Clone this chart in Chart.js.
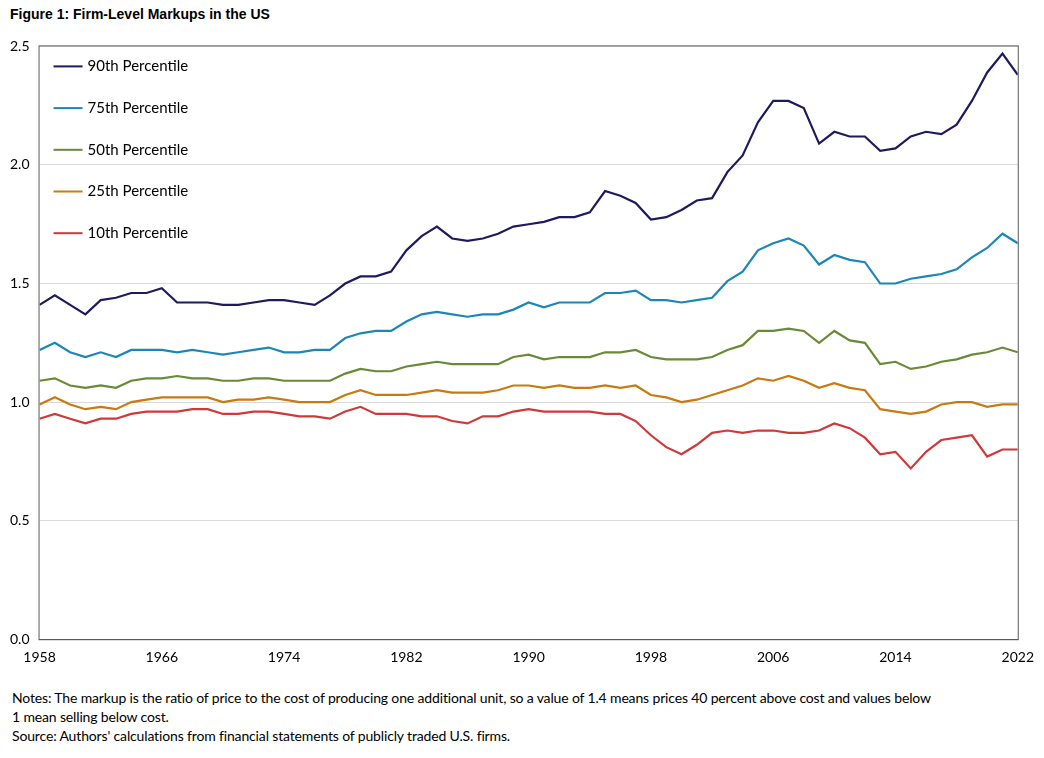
<!DOCTYPE html>
<html><head><meta charset="utf-8">
<script src="https://cdn.jsdelivr.net/npm/chart.js@4"></script>
<style>
body{margin:0;background:#fff;font-family:"Liberation Sans",Arial,sans-serif;}
#title{position:absolute;left:10px;top:6px;font-size:14px;font-weight:bold;color:#000;}
#wrap{position:absolute;left:0;top:28px;width:1044px;height:648px;}
#notes{position:absolute;left:12px;top:688px;width:1032px;font-family:Lato,"Liberation Sans",sans-serif;font-size:14px;letter-spacing:-0.15px;line-height:19px;color:#000;}
</style></head><body>
<div id="title">Figure 1: Firm-Level Markups in the US</div>
<div id="wrap"><canvas id="c"></canvas></div>
<div id="notes">Notes: The markup is the ratio of price to the cost of producing one additional unit, so a value of 1.4 means prices 40 percent above cost and values below<br>1 mean selling below cost.<br>Source: Authors' calculations from financial statements of publicly traded U.S. firms.</div>
<script>
const years = Array.from({length:65},(_, i)=>1958+i);
const p90 = [1.41,1.45,1.41,1.37,1.43,1.44,1.46,1.46,1.48,1.42,1.42,1.42,1.41,1.41,1.42,1.43,1.43,1.42,1.41,1.45,1.50,1.53,1.53,1.55,1.64,1.70,1.74,1.69,1.68,1.69,1.71,1.74,1.75,1.76,1.78,1.78,1.80,1.89,1.87,1.84,1.77,1.78,1.81,1.85,1.86,1.97,2.04,2.18,2.27,2.27,2.24,2.09,2.14,2.12,2.12,2.06,2.07,2.12,2.14,2.13,2.17,2.27,2.39,2.47,2.38];
const p75 = [1.22,1.25,1.21,1.19,1.21,1.19,1.22,1.22,1.22,1.21,1.22,1.21,1.20,1.21,1.22,1.23,1.21,1.21,1.22,1.22,1.27,1.29,1.30,1.30,1.34,1.37,1.38,1.37,1.36,1.37,1.37,1.39,1.42,1.40,1.42,1.42,1.42,1.46,1.46,1.47,1.43,1.43,1.42,1.43,1.44,1.51,1.55,1.64,1.67,1.69,1.66,1.58,1.62,1.60,1.59,1.50,1.50,1.52,1.53,1.54,1.56,1.61,1.65,1.71,1.67];
const p50 = [1.09,1.10,1.07,1.06,1.07,1.06,1.09,1.10,1.10,1.11,1.10,1.10,1.09,1.09,1.10,1.10,1.09,1.09,1.09,1.09,1.12,1.14,1.13,1.13,1.15,1.16,1.17,1.16,1.16,1.16,1.16,1.19,1.20,1.18,1.19,1.19,1.19,1.21,1.21,1.22,1.19,1.18,1.18,1.18,1.19,1.22,1.24,1.30,1.30,1.31,1.30,1.25,1.30,1.26,1.25,1.16,1.17,1.14,1.15,1.17,1.18,1.20,1.21,1.23,1.21];
const p25 = [0.99,1.02,0.99,0.97,0.98,0.97,1.00,1.01,1.02,1.02,1.02,1.02,1.00,1.01,1.01,1.02,1.01,1.00,1.00,1.00,1.03,1.05,1.03,1.03,1.03,1.04,1.05,1.04,1.04,1.04,1.05,1.07,1.07,1.06,1.07,1.06,1.06,1.07,1.06,1.07,1.03,1.02,1.00,1.01,1.03,1.05,1.07,1.10,1.09,1.11,1.09,1.06,1.08,1.06,1.05,0.97,0.96,0.95,0.96,0.99,1.00,1.00,0.98,0.99,0.99];
const p10 = [0.93,0.95,0.93,0.91,0.93,0.93,0.95,0.96,0.96,0.96,0.97,0.97,0.95,0.95,0.96,0.96,0.95,0.94,0.94,0.93,0.96,0.98,0.95,0.95,0.95,0.94,0.94,0.92,0.91,0.94,0.94,0.96,0.97,0.96,0.96,0.96,0.96,0.95,0.95,0.92,0.86,0.81,0.78,0.82,0.87,0.88,0.87,0.88,0.88,0.87,0.87,0.88,0.91,0.89,0.85,0.78,0.79,0.72,0.79,0.84,0.85,0.86,0.77,0.80,0.80];
const seriesLabels = ["90th Percentile","75th Percentile","50th Percentile","25th Percentile","10th Percentile"];
const colors = ["#1f1a5e","#1a87b8","#6a8a35","#c87a10","#d0393a"];
const allSeries = [p90,p75,p50,p25,p10];

const legendPlugin = {
  id:'inlegend',
  afterDraw(chart){
    const ctx=chart.ctx, a=chart.chartArea;
    ctx.save();
    ctx.font='15px Lato, "Liberation Sans", sans-serif';
    ctx.textBaseline='middle';
    chart.data.datasets.forEach((d,i)=>{
      const y=a.top+20+i*41.7, x=a.left+14;
      ctx.strokeStyle=d.borderColor; ctx.lineWidth=2;
      ctx.beginPath(); ctx.moveTo(x,y); ctx.lineTo(x+29,y); ctx.stroke();
      ctx.fillStyle='#000'; ctx.fillText(d.label,x+34,y);
    });
    ctx.strokeStyle='#595959'; ctx.lineWidth=1;
    ctx.strokeRect(a.left-0.5,a.top-0.5,a.right-a.left+1,a.bottom-a.top+1);
    ctx.restore();
  }
};

new Chart(document.getElementById('c'),{
  type:'line',
  data:{datasets:allSeries.map((s,i)=>({
    label:seriesLabels[i],
    data:s.map((v,j)=>({x:years[j],y:v})),
    borderColor:colors[i],backgroundColor:colors[i],
    borderWidth:2.2,pointRadius:0,tension:0
  }))},
  options:{
    responsive:true,maintainAspectRatio:false,animation:false,
    layout:{padding:{left:0,right:26,top:6,bottom:0}},
    plugins:{legend:{display:false},tooltip:{enabled:false}},
    scales:{
      x:{type:'linear',min:1958,max:2022,
        ticks:{stepSize:8,color:'#000',font:{size:14,family:'Lato, "Liberation Sans", sans-serif'},callback:v=>String(v),padding:10,maxRotation:0},
        grid:{display:false,drawTicks:false},border:{color:'#595959'}},
      y:{min:0,max:2.5,
        ticks:{stepSize:0.5,color:'#000',font:{size:14,family:'Lato, "Liberation Sans", sans-serif'},callback:v=>v.toFixed(1),padding:10},
        grid:{color:'#d9d9d9',drawTicks:false},border:{display:false}}
    }
  },
  plugins:[legendPlugin]
});
</script></body></html>
